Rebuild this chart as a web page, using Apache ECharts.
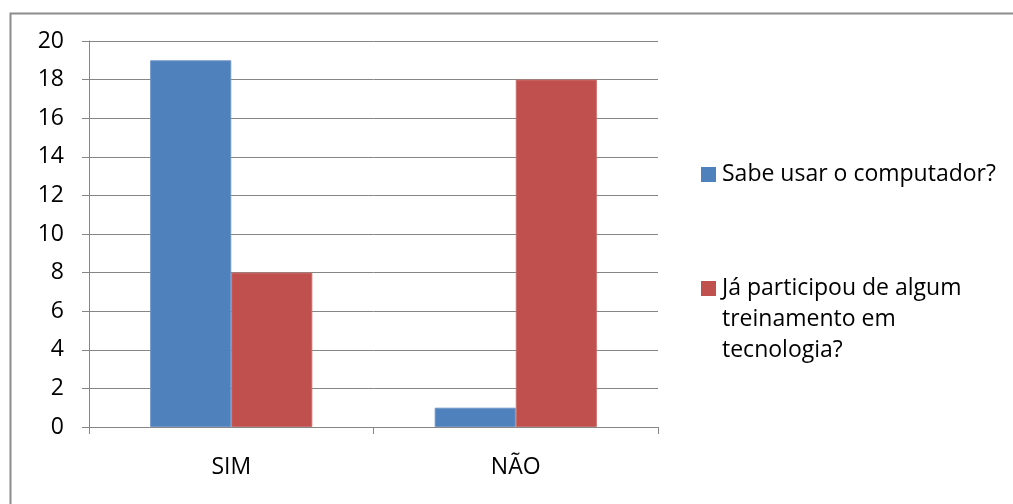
<!DOCTYPE html>
<html>
<head>
<meta charset="utf-8">
<script src="https://cdn.jsdelivr.net/npm/echarts@6/dist/echarts.min.js"></script>
<style>
  html, body { margin: 0; padding: 0; background: #fff; }
  #chart { width: 1013px; height: 504px; }
</style>
</head>
<body>
<div id="chart"></div>
<script>
// Survey answers per category
const categories = ['SIM', 'NÃO'];
const seriesNames = ['Sabe usar o computador?', 'Já participou de algum treinamento em tecnologia?'];
const legendLines = [['Sabe usar o computador?'], ['Já participou de algum', 'treinamento em', 'tecnologia?']];
const computerUse = [19, 1];
const techTraining = [8, 18];
const colors = ['#4F81BD', '#C0504D'];

const FONT = '"Open Sans"';
const FS = 23;

const chart = echarts.init(document.getElementById('chart'), null, { renderer: 'canvas' });

// Legend drawn as graphic items so the wrapped label keeps its square beside the first line
const legendGraphics = [];
const legendTops = [167, 281];
legendLines.forEach((lines, i) => {
  legendGraphics.push({
    type: 'rect', left: 701, top: legendTops[i],
    shape: { width: 15, height: 15 },
    style: { fill: colors[i] }
  });
  legendGraphics.push({
    type: 'text', left: 722, top: legendTops[i] - 8,
    style: {
      text: lines.join('\n'), fill: '#000',
      font: FS + 'px ' + FONT, lineHeight: 31
    }
  });
});

chart.setOption({
  animation: false,
  backgroundColor: '#fff',
  grid: { left: 89, top: 41, right: 355, bottom: 77, containLabel: false },
  xAxis: {
    type: 'category',
    data: categories,
    axisLine: { lineStyle: { color: '#868686', width: 1 } },
    axisTick: { show: true, length: 7, lineStyle: { color: '#868686' } },
    axisLabel: { color: '#000', fontFamily: FONT, fontSize: FS, margin: 29 }
  },
  yAxis: {
    type: 'value', min: 0, max: 20, interval: 2,
    axisLine: { show: true, lineStyle: { color: '#868686', width: 1 } },
    axisTick: { show: true, length: 7, lineStyle: { color: '#868686' } },
    splitLine: { lineStyle: { color: '#868686', width: 1 } },
    axisLabel: { color: '#000', fontFamily: FONT, fontSize: FS, margin: 25 }
  },
  series: [
    {
      name: seriesNames[0], type: 'bar', data: computerUse,
      barGap: '0%', barCategoryGap: '43%',
      itemStyle: { color: colors[0], borderColor: '#6F95C8', borderWidth: 1 }
    },
    {
      name: seriesNames[1], type: 'bar', data: techTraining,
      barGap: '0%', barCategoryGap: '43%',
      itemStyle: { color: colors[1], borderColor: '#C96D6A', borderWidth: 1 }
    }
  ],
  graphic: [
    {
      type: 'rect', left: 8, top: 11, silent: true,
      shape: { x: 0, y: 0, width: 1040, height: 520 },
      style: { fill: 'none', stroke: '#8C8C8C', lineWidth: 2 }
    }
  ].concat(legendGraphics)
});
</script>
</body>
</html>
